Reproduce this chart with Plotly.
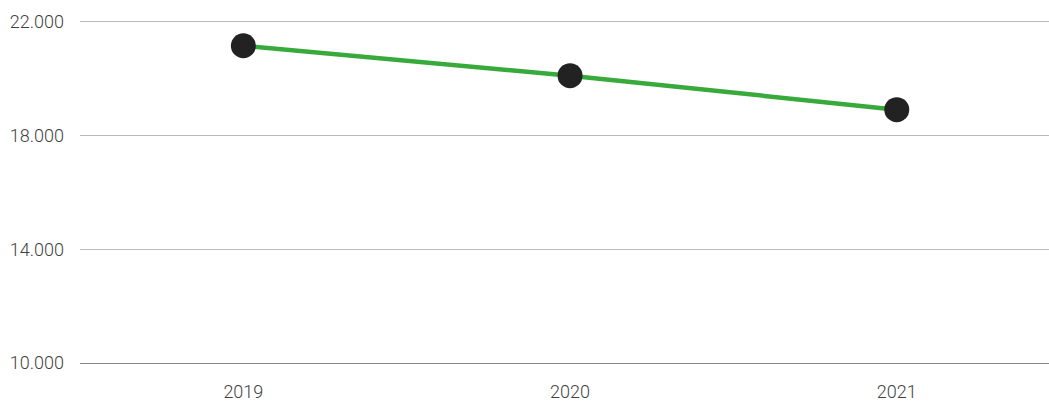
import plotly.graph_objects as go

# Yearly values
years = ["2019", "2020", "2021"]
values = [21165, 20110, 18915]

# Y-axis ticks (German number format)
y_ticks = [10000, 14000, 18000, 22000]
y_tick_labels = ["10.000", "14.000", "18.000", "22.000"]

label_font = dict(family="Roboto", size=18, color="#3f3f3f", weight=300)

fig = go.Figure()
fig.add_trace(go.Scatter(
    x=years,
    y=values,
    mode="lines+markers",
    line=dict(color="#38a93b", width=4.5),
    marker=dict(size=25, color="#222222", line=dict(width=0)),
    hoverinfo="x+y",
))

fig.update_layout(
    width=1049,
    height=403,
    margin=dict(l=80, r=0, t=0, b=40, autoexpand=False),
    paper_bgcolor="white",
    plot_bgcolor="white",
    showlegend=False,
    font=label_font,
    xaxis=dict(
        type="category",
        range=[-0.5, 2.466],
        automargin=False,
        showgrid=False,
        showline=True,
        linecolor="#888888",
        linewidth=1,
        ticks="",
        ticklabelstandoff=12,
        tickfont=label_font,
        zeroline=False,
    ),
    yaxis=dict(
        range=[10000, 22774],
        automargin=False,
        tickvals=y_ticks,
        ticktext=y_tick_labels,
        showgrid=True,
        gridcolor="#bbbbbb",
        gridwidth=1,
        zeroline=False,
        showline=False,
        ticks="",
        ticklabelstandoff=15,
        tickfont=label_font,
    ),
)

fig.write_html("out.html")
